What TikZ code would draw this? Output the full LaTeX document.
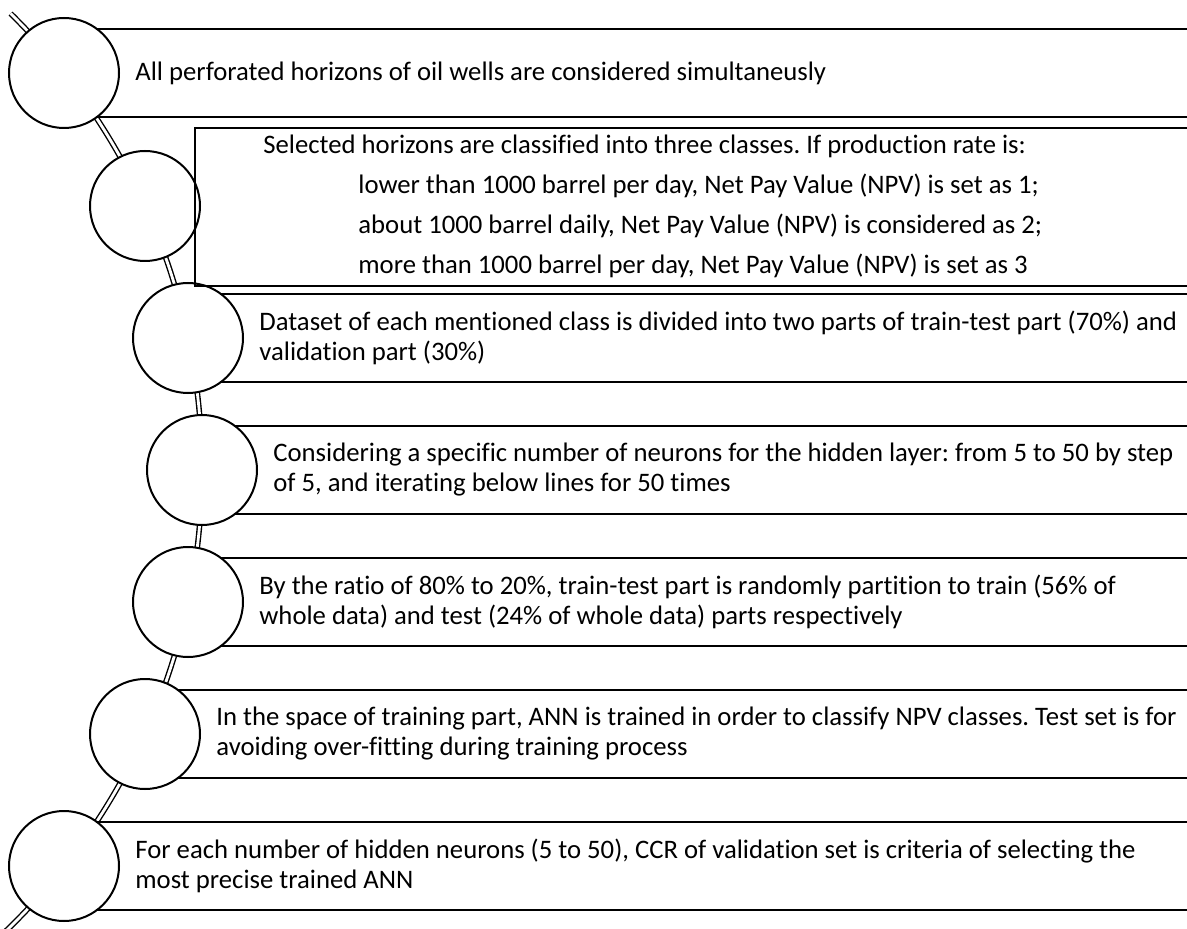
\documentclass[tikz,border=0pt]{standalone}
\usepackage{fontspec}
\setmainfont{Carlito}[Ligatures=NoCommon]
\usepackage{tikz}
\usetikzlibrary{positioning, backgrounds, calc}
\frenchspacing
\tikzset{%
	stage/.style={draw, circle, minimum size=55pt, inner sep=0pt, outer sep=0pt, line width=1pt, fill=white},
	entry/.style={inner sep=0pt, align=left, font=\fontsize{13.35}{15}\selectfont},
	rule/.style={line width=0.9pt},
	track/.style={double, double distance=1.4pt, line width=0.7pt}
}

\begin{document}
\begin{tikzpicture}[x=0.5pt, y=0.5pt]
	\clip (0,0) rectangle (1187,928);
	\coordinate (hub) at (-438,458);
	\coordinate (edge) at (1195,0);

	\node[stage] (c1) at (64,855) {};
	\node[stage] (c2) at (145,722) {};
	\node[stage] (c3) at (188,590) {};
	\node[stage] (c4) at (202,458) {};
	\node[stage] (c5) at (188,326) {};
	\node[stage] (c6) at (145,194) {};
	\node[stage] (c7) at (64,62) {};

	\node[draw, rule, anchor=north west, minimum width=500pt, minimum height=79pt] (b2) at (194,801) {};

	\node[entry, right=8pt of c1] (t1) {All perforated horizons of oil wells are considered simultaneusly};
	\node[entry, right=31.5pt of c2, font=\fontsize{13.35}{20}\selectfont] (t2) {Selected horizons are classified into three classes. If production rate is:\\
		\hspace*{47.5pt}lower than 1000 barrel per day, Net Pay Value (NPV) is set as 1;\\
		\hspace*{47.5pt}about 1000 barrel daily, Net Pay Value (NPV) is considered as 2;\\
		\hspace*{47.5pt}more than 1000 barrel per day, Net Pay Value (NPV) is set as 3};
	\node[entry, right=8pt of c3] (t3) {Dataset of each mentioned class is divided into two parts of train-test part (70\%) and\\validation part (30\%)};
	\node[entry, right=8pt of c4] (t4) {Considering a specific number of neurons for the hidden layer: from 5 to 50 by step\\of 5, and iterating below lines for 50 times};
	\node[entry, right=8pt of c5] (t5) {By the ratio of 80\% to 20\%, train-test part is randomly partition to train (56\% of\\whole data) and test (24\% of whole data) parts respectively};
	\node[entry, right=8pt of c6] (t6) {In the space of training part, ANN is trained in order to classify NPV classes. Test set is for\\avoiding over-fitting during training process};
	\node[entry, right=8pt of c7] (t7) {For each number of hidden neurons (5 to 50), CCR of validation set is criteria of selecting the\\most precise trained ANN};

	\begin{pgfonlayer}{background}
		\draw[track] ([shift={(45.5:320pt)}]hub) arc[start angle=45.5, end angle=-48, radius=320pt];
		\foreach \i in {1,3,4,5,6,7} {
			\draw[rule] ([yshift=22pt]c\i.center) -- ([yshift=22pt]c\i.center -| edge);
			\draw[rule] ([yshift=-22pt]c\i.center) -- ([yshift=-22pt]c\i.center -| edge);
		}
	\end{pgfonlayer}
\end{tikzpicture}
\end{document}
